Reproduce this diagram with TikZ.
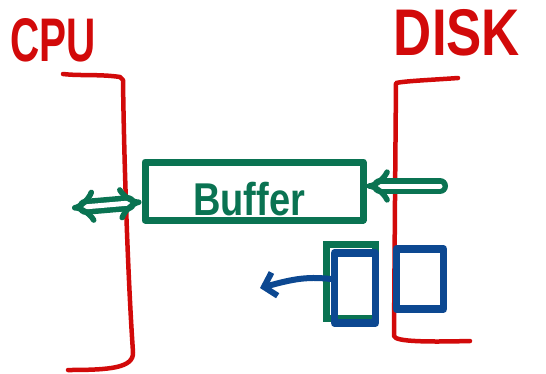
\documentclass[tikz,border=0pt]{standalone}
\usepackage{fontspec}
\setmainfont{Liberation Sans}
\usetikzlibrary{arrows.meta}
\definecolor{penred}{RGB}{210,10,10}
\definecolor{pengreen}{RGB}{10,115,82}
\definecolor{penblue}{RGB}{12,72,145}
\tikzset{
  redline/.style={penred, line width=4.5pt, line cap=round, line join=round},
  bufbox/.style={draw=pengreen, line width=7pt, line join=round, minimum width=218pt, minimum height=58pt, inner sep=0pt},
  dblarrow/.style={pengreen, line width=5.5pt, double, double distance=5pt, line cap=round},
  blockbox/.style={draw=penblue, line width=7.5pt, line join=round, inner sep=0pt},
  shadowbox/.style={draw=pengreen, line width=7pt, inner sep=0pt},
  bluearrow/.style={penblue, line width=6pt, line cap=round, -{Straight Barb[length=11pt,width=24pt,line width=6pt]}},
  title/.style={text=penred, font=\fontsize{44}{44}\selectfont\bfseries, inner sep=0pt}
}
\begin{document}
\begin{tikzpicture}[x=1pt,y=-1pt]
\useasboundingbox (0,0) rectangle (546,373);
% titles
\node[title, xscale=0.92, yscale=1.4] (cpu) at (53,40) {CPU};
\node[title, xscale=1.2, yscale=1.5] (disk) at (457,33) {DISK};
% CPU bracket
\draw[redline] (63,74) .. controls (80,76) and (100,74) .. (120,77) -- (123,80)
  .. controls (124,160) and (128,280) .. (133,352) .. controls (134,368) and (110,370) .. (68,370);
% DISK bracket
\draw[redline] (458,78) .. controls (430,80) and (405,81) .. (396,83)
  -- (395,200) -- (394,336) .. controls (395,342) and (430,342) .. (470,341);
% buffer
\node[bufbox] (buf) at (254,191) {};
\node[text=pengreen, font=\fontsize{40}{40}\selectfont\bfseries, xscale=0.95, yscale=1.15, inner sep=0pt] (buftext) at (249,199) {Buffer};
% double arrows
\coordinate (cpuend) at (72,208);
\coordinate (diskend) at (440,186);
\draw[dblarrow, {Implies}-{Implies}] (cpuend) -- (buf.west |- 0,202);
\draw[dblarrow, {Implies}-] (buf.east |- 0,186) -- (diskend);
% blocks
\node[shadowbox, minimum width=49pt, minimum height=74pt] (blk1g) at (351,281) {};
\node[blockbox, minimum width=41pt, minimum height=70pt] (blk1) at (355,288) {};
\node[blockbox, minimum width=47pt, minimum height=60pt] (blk2) at (420,279) {};
\coordinate (outarrow) at (260,288);
\draw[bluearrow] (blk1.west |- 0,279) .. controls (305,276) and (290,280) .. (outarrow);
\end{tikzpicture}
\end{document}
